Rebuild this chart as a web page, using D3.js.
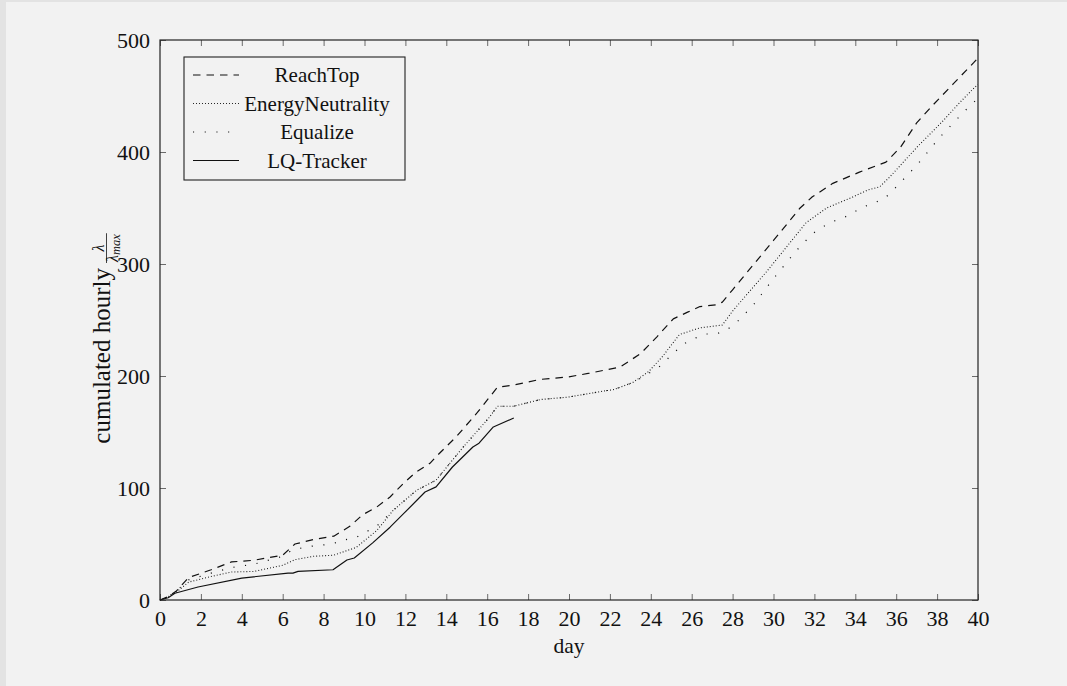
<!DOCTYPE html>
<html>
<head>
<meta charset="utf-8">
<script src="https://cdn.jsdelivr.net/npm/d3@7"></script>
<style>
  html, body { margin: 0; padding: 0; background: #f2f2f2; }
  svg { display: block; }
</style>
</head>
<body>
<svg id="chart" width="1067" height="686"></svg>
<script>
// Cumulated hourly normalized rate per strategy, sampled as [day, value]
const reachTop = [[0,0],[0.4,3],[0.8,8],[1.4,20],[2.5,27],[3.5,34],[4.6,35.5],[6.0,40],[6.6,50],[7.5,54],[8.5,57],[9.3,66],[9.9,76],[10.6,83],[11.25,92],[11.9,104],[12.5,114],[13.2,122],[13.5,128],[14.5,146],[15.5,167],[16.5,190],[17.3,192],[18.6,197],[19.9,199],[21.0,202.5],[22.5,208],[23.5,220],[24.3,235],[25.1,251],[25.8,257],[26.4,262],[27.2,263.5],[27.5,266],[28.0,277],[30.0,321],[31.3,350],[31.9,360],[32.9,372],[34.2,382],[35.5,391],[36.2,404],[37.0,426],[37.8,442],[38.8,461],[39.8,480],[40,484]];
const energyNeutrality = [[0,0],[0.4,3],[0.8,7],[1.4,16],[2.5,21],[3.5,25],[4.6,25.5],[6.0,31],[6.6,36],[7.5,39],[8.5,40],[9.6,47],[10.6,62],[11.4,80],[12.55,98],[13.5,107],[14.8,136],[16.1,163],[16.5,173],[17.3,173],[18.6,179],[19.9,181],[21.2,185],[22.2,188],[23.1,194],[23.9,204],[24.6,218],[25.4,237],[26.4,243],[27.5,245.5],[28.0,258],[29.7,294],[31.6,337],[32.6,350],[33.9,360],[34.6,366],[35.2,369],[35.7,378],[37.0,404],[38.3,428],[39.1,444],[39.85,458],[40,460]];
const equalize = [[0,0],[0.4,3],[0.8,8],[1.4,18],[2.5,24],[3.5,29],[4.6,32],[6.0,39],[6.5,45],[7.4,48],[8.4,50],[9.0,53.6],[9.6,56],[10.1,61],[10.6,66],[11.4,80],[12.55,98],[13.5,107],[14.8,136],[16.1,163],[16.5,173],[17.3,173],[18.6,179],[19.9,181],[21.2,185],[22.2,188],[23.1,194],[23.6,199],[24.4,208],[24.8,215],[25.2,222],[25.7,229.5],[26.2,234],[26.7,237.5],[27.2,237.5],[27.7,241],[28.2,248],[29.0,263],[30.0,287],[31.1,311.6],[31.9,327],[32.4,333],[32.9,338],[33.4,341],[34.4,351],[35.4,358],[35.8,365],[37.0,388],[38.1,412.5],[39.3,435.7],[40,448]];
const lqTracker = [[0,0],[0.4,2],[0.73,6],[1.86,11.6],[4.0,19.6],[6.26,24],[6.5,24],[6.75,25.5],[8.46,27],[9.14,35.7],[9.5,37.5],[10.4,51],[11.25,65],[12.07,80],[12.96,96.4],[13.5,101],[14.3,118.75],[15.3,136.6],[15.6,140],[16.3,154.5],[17.3,162.5]];

const seriesNames = ["ReachTop", "EnergyNeutrality", "Equalize", "LQ-Tracker"];
const xTicks = d3.range(0, 41, 2);
const yTicks = [0, 100, 200, 300, 400, 500];

const series = [
  { name: seriesNames[0], data: reachTop,         dash: "7.5,6",    width: 1.2 },
  { name: seriesNames[1], data: energyNeutrality, dash: "0.9,2.1",  width: 1.1 },
  { name: seriesNames[2], data: equalize,         dash: "1.1,10.6", width: 1.2 },
  { name: seriesNames[3], data: lqTracker,        dash: null,       width: 1.2 }
];

const FONT = "'Liberation Serif', 'Times New Roman', Times, 'DejaVu Serif', serif";
const TICK_FS = 22;
const LABEL_FS = 21.5;

const svg = d3.select("#chart").attr("font-family", FONT);
const W = 1067, H = 686;
const plot = { left: 160, right: 978, top: 40, bottom: 600 };

// page frame
svg.append("rect").attr("x", 0).attr("y", 0).attr("width", W).attr("height", H).attr("fill", "#e3e3e3");
svg.append("rect").attr("x", 6).attr("y", 2).attr("width", W - 6).attr("height", H - 2).attr("fill", "#f2f2f2");

const x = d3.scaleLinear().domain([0, 40]).range([plot.left, plot.right]);
const y = d3.scaleLinear().domain([0, 500]).range([plot.bottom, plot.top]);

const tickLen = 6;
const tickStyle = g => {
  g.attr("font-family", FONT).attr("font-size", TICK_FS);
  g.select(".domain").remove();
  g.selectAll(".tick line").attr("stroke", "#6a6a6a").attr("stroke-width", 1);
  g.selectAll(".tick text").attr("fill", "#111");
};

// bottom axis with labels, ticks pointing inward
svg.append("g")
  .attr("transform", `translate(0,${plot.bottom})`)
  .call(d3.axisBottom(x).tickValues(xTicks).tickSize(-tickLen).tickPadding(10).tickFormat(d3.format("d")))
  .call(tickStyle);

// top axis, ticks only
svg.append("g")
  .attr("transform", `translate(0,${plot.top})`)
  .call(d3.axisTop(x).tickValues(xTicks).tickSize(-tickLen).tickFormat(""))
  .call(tickStyle);

// left axis with labels
svg.append("g")
  .attr("transform", `translate(${plot.left},0)`)
  .call(d3.axisLeft(y).tickValues(yTicks).tickSize(-tickLen).tickPadding(10).tickFormat(d3.format("d")))
  .call(tickStyle);

// right axis, ticks only
svg.append("g")
  .attr("transform", `translate(${plot.right},0)`)
  .call(d3.axisRight(y).tickValues(yTicks).tickSize(-tickLen).tickFormat(""))
  .call(tickStyle);

// series lines
const line = d3.line().x(d => x(d[0])).y(d => y(d[1]));
const linesG = svg.append("g");
series.forEach(s => {
  linesG.append("path")
    .datum(s.data)
    .attr("fill", "none")
    .attr("stroke", "#111")
    .attr("stroke-width", s.width)
    .attr("stroke-dasharray", s.dash)
    .attr("stroke-linejoin", "round")
    .attr("d", line);
});

// axis frame
svg.append("rect")
  .attr("x", plot.left).attr("y", plot.top)
  .attr("width", plot.right - plot.left).attr("height", plot.bottom - plot.top)
  .attr("fill", "none").attr("stroke", "#222").attr("stroke-width", 1.2);

// x-axis title
svg.append("text")
  .attr("x", (plot.left + plot.right) / 2).attr("y", 653)
  .attr("text-anchor", "middle").attr("font-size", LABEL_FS).attr("fill", "#111")
  .text("day");

// y-axis title: "cumulated hourly" followed by the fraction λ / λ_max
const yt = svg.append("g").attr("transform", "translate(110,268) rotate(-90)").attr("fill", "#111");
yt.append("text").attr("x", 0).attr("y", 0).attr("font-size", 25).attr("text-anchor", "end").text("cumulated hourly");
const fx = 5;
const num = yt.append("text").attr("y", -6).attr("font-size", 16).attr("font-style", "italic").attr("text-anchor", "middle").text("λ");
const den = yt.append("text").attr("y", 7.5).attr("font-size", 16).attr("font-style", "italic");
den.append("tspan").text("λ");
den.append("tspan").attr("font-size", 12.5).attr("dy", 2).text("max");
const denW = den.node().getComputedTextLength();
den.attr("x", fx + 1);
num.attr("x", fx + 1 + denW / 2);
yt.append("line")
  .attr("x1", fx).attr("x2", fx + denW + 2)
  .attr("y1", -3.5).attr("y2", -3.5)
  .attr("stroke", "#111").attr("stroke-width", 0.8);

// legend
const legend = { x: 184, y: 57, w: 221, h: 123 };
svg.append("rect")
  .attr("x", legend.x).attr("y", legend.y).attr("width", legend.w).attr("height", legend.h)
  .attr("fill", "#f2f2f2").attr("stroke", "#222").attr("stroke-width", 1.1);
series.forEach((s, i) => {
  const cy = 75 + i * 28.5;
  svg.append("line")
    .attr("x1", 193).attr("x2", 239).attr("y1", cy).attr("y2", cy)
    .attr("stroke", "#111").attr("stroke-width", s.width)
    .attr("stroke-dasharray", s.dash);
  svg.append("text")
    .attr("x", 317).attr("y", cy + 7)
    .attr("text-anchor", "middle").attr("font-size", 21).attr("fill", "#111")
    .text(s.name);
});
</script>
</body>
</html>
